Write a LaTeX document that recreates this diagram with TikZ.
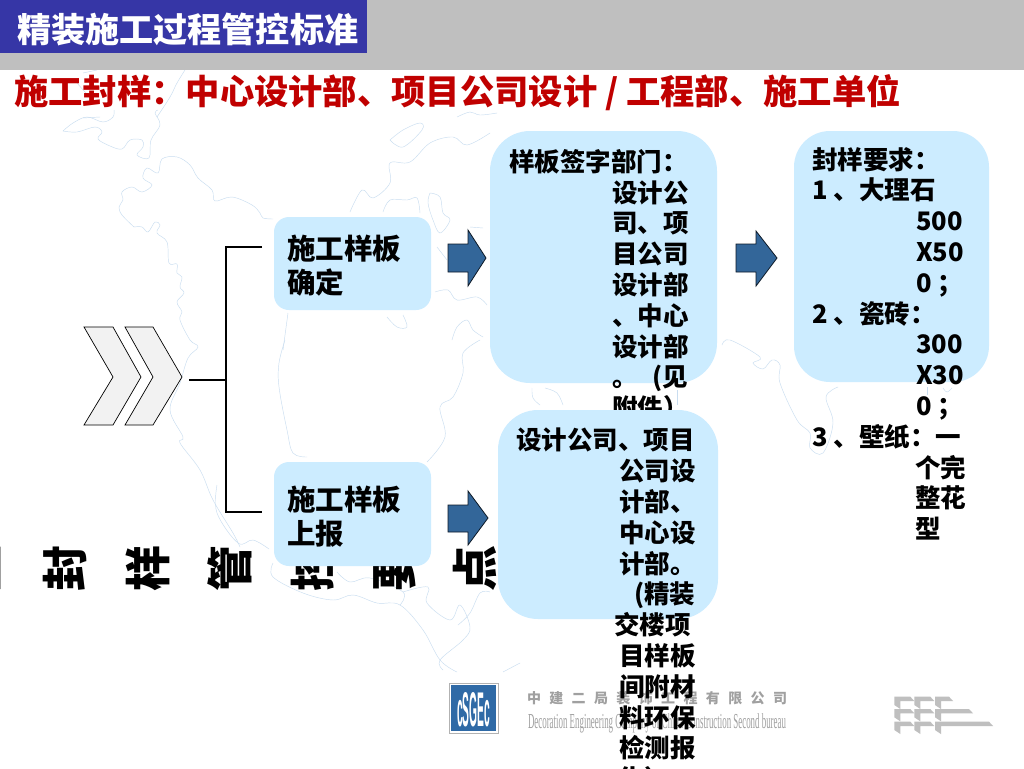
\documentclass[tikz,border=0pt]{standalone}
\usepackage{graphicx}
\usepackage{fontspec}
\setmainfont{Noto Sans CJK SC}
\newfontfamily\latserif{Liberation Serif}
\newfontfamily\latsans{Liberation Sans}
\definecolor{bandgray}{HTML}{BFBFBF}
\definecolor{titleblue}{HTML}{3636A6}
\definecolor{subred}{HTML}{C00000}
\definecolor{boxblue}{HTML}{CCECFF}
\definecolor{arrowblue}{HTML}{336699}
\definecolor{mapline}{HTML}{C9DDF0}
\definecolor{chevfill}{HTML}{F2F2F2}
\definecolor{logoblue}{HTML}{2F6AA6}
\definecolor{firmgray}{HTML}{A0A0A0}
\tikzset{
  mapcurve/.style={draw=mapline,line width=0.45pt,smooth,tension=0.6},
  softbox/.style={fill=boxblue,draw=none,inner sep=0pt,rectangle},
  smallbox/.style={softbox,rounded corners=15pt,minimum width=157pt},
  bigbox/.style={softbox,rounded corners=40pt},
  chev/.style={fill=chevfill,draw=black,line width=0.7pt,line join=miter},
  blockarrow/.style={fill=arrowblue,draw=black!75!arrowblue,line width=0.8pt,line join=miter},
  bracketline/.style={draw=black,line width=1.7pt},
  rottext/.style={rotate=90,inner sep=0pt,font=\fontsize{46}{46}\selectfont\bfseries},
  smalltext/.style={anchor=north west,inner sep=0pt,align=left,font=\fontsize{28.5}{34}\selectfont\bfseries},
  bodytext/.style={anchor=north west,inner sep=0pt,align=left,font=\fontsize{25.5}{30.8}\selectfont\bfseries},
}
\newcommand{\ind}[1]{\hspace*{#1pt}}
\begin{document}
\begin{tikzpicture}[x=1pt,y=-1pt]
\useasboundingbox (0,0) rectangle (1024,768);
\fill[white] (0,0) rectangle (1024,768);
% background map
\draw[mapcurve] plot coordinates {(63,131) (73,123) (87,117) (103,122) (113,117) (114,110)};
\draw[mapcurve] plot coordinates {(63,131) (77,132) (95,127) (102,132) (98,139) (110,146) (122,149) (130,140) (142,140) (143,147) (137,155) (149,158) (151,140) (160,125) (155,113) (158,110)};
\draw[mapcurve] plot coordinates {(134,227) (122,215) (119,207) (123,200) (122,192) (132,187) (142,192) (152,185) (143,178) (147,168) (158,173) (162,159) (177,157) (190,165) (198,178) (212,190) (215,201) (232,197) (252,205) (260,213) (263,218) (273,219)};
\draw[mapcurve] plot coordinates {(134,227) (142,227) (148,232) (155,222) (160,225) (157,233) (167,242) (169,263) (177,264) (177,273) (182,277) (180,287) (184,293) (177,302) (182,312) (180,320) (190,340) (198,347) (188,358) (180,383) (170,410) (183,437) (180,443) (200,470) (213,500) (233,533) (240,547)};
\draw[mapcurve] plot coordinates {(217,485) (217,513) (238,543) (253,540) (269,549)};
\draw[mapcurve] plot coordinates {(285,340) (279,363) (279,387) (287,430) (293,453) (307,457)};
\draw[mapcurve] plot coordinates {(273,563) (273,577) (303,593) (333,600) (353,595) (377,603) (400,605) (423,630) (440,660) (457,672)};
\draw[mapcurve] plot coordinates {(337,572) (350,582) (370,578) (403,592) (400,605)};
\draw[mapcurve] plot coordinates {(403,592) (428,587) (427,603) (450,620) (460,605) (470,627) (463,640) (440,660) (443,670)};
\draw[mapcurve] plot coordinates {(427,462) (445,437) (440,407) (453,397) (463,373) (463,353) (480,340)};
\draw[mapcurve] plot coordinates {(350,212) (362,190) (373,198) (390,183) (390,163) (410,162) (430,143) (453,137) (467,145) (490,133)};
\draw[mapcurve] plot coordinates {(390,140) (403,130) (420,123) (422,130) (403,147) (390,140)};
\draw[mapcurve] plot coordinates {(383,212) (390,200) (407,200) (417,198) (420,213)};
\draw[mapcurve] plot coordinates {(430,193) (440,197) (443,213) (450,220) (440,233) (433,220) (428,203) (430,193)};
\draw[mapcurve] plot coordinates {(435,292) (448,290) (457,300) (477,297) (487,305)};
\draw[mapcurve] plot coordinates {(387,317) (397,327) (407,327) (403,315)};
\draw[mapcurve] plot coordinates {(452,340) (457,327) (467,320) (473,330) (483,337)};
\draw[mapcurve] plot coordinates {(288,313) (283,350)};
\draw[mapcurve] plot coordinates {(457,117) (470,112) (480,115) (497,113)};
\draw[mapcurve] plot coordinates {(437,247) (447,260)};
\draw[mapcurve] plot coordinates {(470,227) (483,228)};
\draw[mapcurve] plot coordinates {(532,388) (533,398) (540,405)};
\draw[mapcurve] plot coordinates {(545,388) (557,393) (563,405)};
\draw[mapcurve] plot coordinates {(677,390) (677,405)};
\draw[mapcurve] plot coordinates {(722,345) (730,340) (760,357) (753,363) (763,369) (772,360) (780,365) (780,383) (797,420) (810,433) (810,448) (823,453) (833,423) (826,397) (838,387)};
\draw[mapcurve] plot coordinates {(927,387) (927,395)};
\draw[mapcurve] plot coordinates {(943,388) (947,392) (952,388)};
\draw[mapcurve] plot coordinates {(83,73) (97,70)};
\draw[mapcurve] plot coordinates {(77,83) (85,92) (93,100)};
\draw[mapcurve] plot coordinates {(185,70) (177,83) (170,97) (157,117)};
\draw[mapcurve] plot coordinates {(83,118) (100,117)};
\draw[mapcurve] plot coordinates {(490,592) (480,593) (470,613) (458,625)};
\draw[mapcurve] plot coordinates {(520,663) (503,672)};
% header
\fill[bandgray] (0,0) rectangle (1024,70);
\node[fill=titleblue,inner sep=0pt,minimum width=367pt,minimum height=53pt,anchor=north west] (titlebar) at (0,0) {};
\node[inner sep=0pt,text=white,anchor=west,font=\fontsize{34.1}{34}\selectfont\bfseries] (titletext) at (17,30) {精装施工过程管控标准};
\node[inner sep=0pt,text=subred,anchor=west,font=\fontsize{34.3}{34}\selectfont\bfseries] (subtitle) at (14,93) {施工封样：中心设计部、项目公司设计 / 工程部、施工单位};
% rotated heading
\node[rottext] (r0) at (-17,568) {工};
\node[rottext] (r1) at (65,568) {封};
\node[rottext] (r2) at (148,568) {样};
\node[rottext] (r3) at (230,568) {管};
\node[rottext] (r4) at (312,568) {控};
\node[rottext] (r5) at (395,568) {要};
\node[rottext] (r6) at (475,568) {点};
% chevrons
\draw[chev] (84,327) -- (113,327) -- (141,377) -- (113,425) -- (84,425) -- (113,377) -- cycle;
\draw[chev] (125,327) -- (153,327) -- (182,377) -- (153,425) -- (125,425) -- (153,377) -- cycle;
% bracket
\coordinate (brIn) at (189,380);
\coordinate (brMid) at (226,380);
\coordinate (brTop) at (262,247);
\coordinate (brBot) at (262,512);
\draw[bracketline] (brIn) -- (brMid);
\draw[bracketline] (brTop) -- (brTop-|brMid) -- (brBot-|brMid) -- (brBot);
% block arrows
\draw[blockarrow] (448,244) -- (468,244) -- (468,230) -- (486,258) -- (468,286) -- (468,272) -- (448,272) -- cycle;
\draw[blockarrow] (448,505) -- (468,505) -- (468,491) -- (488,518) -- (468,545) -- (468,532) -- (448,532) -- cycle;
\draw[blockarrow] (736,244) -- (756,244) -- (756,231) -- (777,258) -- (756,286) -- (756,272) -- (736,272) -- cycle;
% logo and firm name
\node[fill=white,draw=black!30,line width=0.7pt,minimum width=49pt,minimum height=50pt,inner sep=0pt] (logoframe) at (473.5,708) {};
\node[fill=logoblue,minimum width=45.5pt,minimum height=46.5pt,inner sep=0pt] (logo) at (473.5,708) {};
\node[inner sep=0pt,text=white] (logotext) at (473.5,710) {\resizebox{33pt}{34pt}{\latsans\bfseries cSGEc}};
\node[inner sep=0pt,text=firmgray,font=\fontsize{14}{14}\selectfont\bfseries] (firmcn) at (657,698) {\makebox[260pt][s]{中\hfill 建\hfill 二\hfill 局\hfill 装\hfill 饰\hfill 工\hfill 程\hfill 有\hfill 限\hfill 公\hfill 司}};
\node[inner sep=0pt,text=firmgray] (firmen) at (657,723) {\resizebox{258pt}{15pt}{\latserif Decoration Engineering Company of China Construction Second bureau}};
% corner pattern
\foreach \cx in {894.3,914.3} \foreach \cy in {696.7,709,721.7}
  \fill[bandgray] (\cx,\cy) -- ++(16,0) -- ++(4,4.3) -- ++(-14,0) -- ++(0,8) -- ++(-6,-4) -- cycle;
\foreach \cy/\ll in {696.7/18,709/38,721.7/58}
  \fill[bandgray] (935,\cy) -- ++({\ll-4},0) -- ++(4,4.3) -- ++({6-\ll},0) -- ++(0,8) -- ++(-6,-4) -- cycle;
% boxes, small
\node[smallbox,minimum height=93pt] (boxa) at (352.5,263.5) {};
\node[smallbox,minimum height=104pt] (boxb) at (352.5,514) {};
\node[smalltext] (texta) at (287,234.5) {施工样板\\确定};
\node[smalltext] (textb) at (287,485.5) {施工样板\\上报};
% box three
\node[bigbox,minimum width=227pt,minimum height=252pt] (boxc) at (603.5,257) {};
\node[bodytext] (textc) at (509,149) {样板签字部门：\\
\ind{103}设计公\\
\ind{103}司、项\\
\ind{103}目公司\\
\ind{103}设计部\\
\ind{103}、中心\\
\ind{103}设计部\\
\ind{103}。\ind{15}(见\\
\ind{103}附件）};
% box five
\node[bigbox,rounded corners=36pt,minimum width=195pt,minimum height=251pt] (boxe) at (891.5,256.5) {};
\node[bodytext] (texte) at (812,147) {封样要求：\\
1 、大理石\\
\ind{104}500\\
\ind{104}X50\\
\ind{104}0 ；\\
2 、瓷砖：\\
\ind{104}300\\
\ind{104}X30\\
\ind{104}0 ；\\
3 、壁纸：一\\
\ind{103}个完\\
\ind{103}整花\\
\ind{103}型};
% box four
\node[bigbox,minimum width=220pt,minimum height=209pt] (boxd) at (608,514.5) {};
\node[bodytext] (textd) at (516,428) {设计公司、项目\\
\ind{103}公司设\\
\ind{103}计部、\\
\ind{103}中心设\\
\ind{103}计部。\\
\ind{118}(精装\\
\ind{98}交楼项\\
\ind{103}目样板\\
\ind{103}间附材\\
\ind{103}料环保\\
\ind{103}检测报\\
\ind{103}告）};
\end{tikzpicture}
\end{document}
